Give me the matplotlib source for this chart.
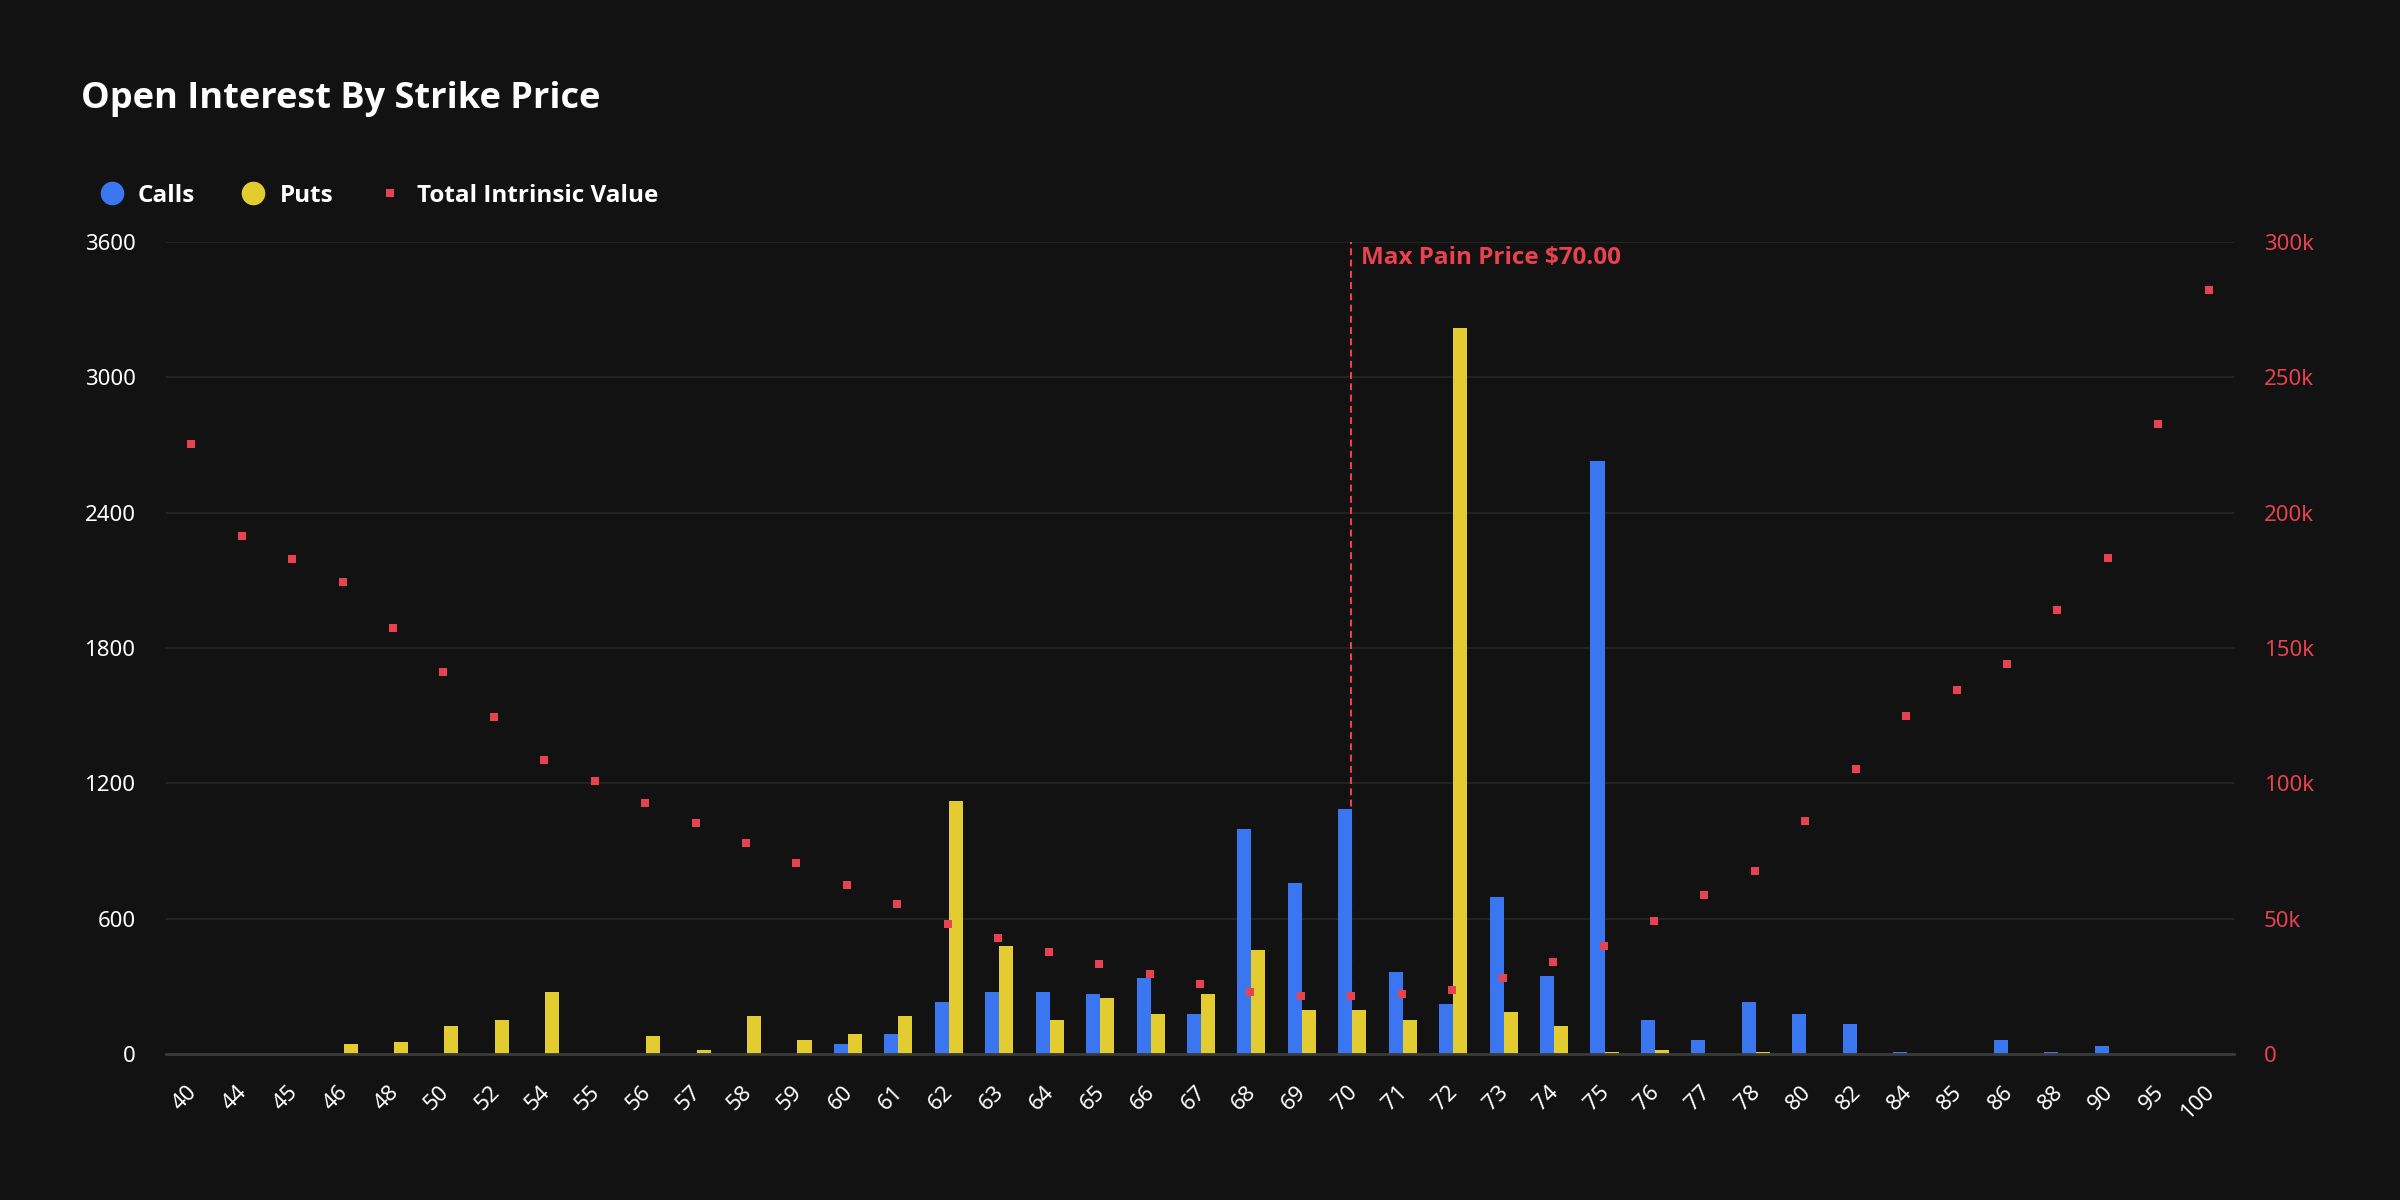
import matplotlib
matplotlib.use("Agg")
import matplotlib.pyplot as plt
from matplotlib.lines import Line2D
from matplotlib.ticker import FuncFormatter, FixedLocator
from matplotlib.transforms import ScaledTranslation
from matplotlib import font_manager
import numpy as np


def pick_bold():
    for fam in ["Noto Sans", "Open Sans", "Lato", "Roboto", "Liberation Sans"]:
        for f in font_manager.fontManager.ttflist:
            w = f.weight if isinstance(f.weight, int) else (700 if f.weight == 'bold' else 400)
            if f.name == fam and w >= 600 and f.style == 'normal':
                return fam
    return "DejaVu Sans"


plt.rcParams['font.family'] = ['Noto Sans', 'DejaVu Sans']
BOLD_FAMILY = [pick_bold(), 'DejaVu Sans']

strikes = ["40", "44", "45", "46", "48", "50", "52", "54", "55", "56", "57", "58", "59", "60",
           "61", "62", "63", "64", "65", "66", "67", "68", "69", "70", "71", "72", "73", "74",
           "75", "76", "77", "78", "80", "82", "84", "85", "86", "88", "90", "95", "100"]
calls = [0, 0, 0, 0, 0, 0, 0, 0, 0, 0, 0, 0, 0, 45,
         89, 231, 276, 276, 267, 338, 178, 997, 757, 1086, 365, 223, 694, 347,
         2630, 151, 62, 231, 178, 134, 9, 0, 62, 9, 36, 0, 0]
puts = [0, 0, 0, 45, 53, 125, 151, 276, 0, 80, 18, 169, 62, 89,
        169, 1121, 481, 151, 249, 178, 267, 463, 196, 196, 151, 3220, 187, 125,
        9, 18, 0, 9, 0, 0, 0, 0, 0, 0, 0, 0, 0]
intrinsic_k = [225.3, 191.4, 183.0, 174.4, 157.4, 141.0, 124.5, 108.5, 100.9, 92.7, 85.3, 77.9, 70.5, 62.3,
               55.6, 48.2, 43.0, 37.8, 33.4, 29.7, 26.0, 23.0, 21.5, 21.5, 22.2, 23.7, 28.2, 34.1,
               40.0, 49.0, 58.6, 67.5, 86.0, 105.3, 125.0, 134.5, 144.2, 164.0, 183.2, 232.7, 282.3]
left_ticks = [0, 600, 1200, 1800, 2400, 3000, 3600]
right_ticks = [0, 50, 100, 150, 200, 250, 300]
max_pain = "70"
max_pain_label = "Max Pain Price $70.00"
title = "Open Interest By Strike Price"
legend_labels = ["Calls", "Puts", "Total Intrinsic Value"]

BG = "#121212"
BLUE = "#3a76f0"
YELLOW = "#e3cc2f"
RED = "#e8414f"
GRID = "#262626"
W, H = 2400, 1200

fig = plt.figure(figsize=(24, 12), dpi=100, facecolor=BG)
L, R, B, T = 166, 2234, 1054, 242
ax = fig.add_axes([L / W, 1 - B / H, (R - L) / W, (B - T) / H])
ax.set_facecolor(BG)

x = np.arange(len(strikes))
bw = 0.278
shift = 0.02
ax.bar(x - bw / 2 + shift, calls, width=bw, color=BLUE, zorder=3)
ax.bar(x + bw / 2 + shift, puts, width=bw, color=YELLOW, zorder=3)

mp = strikes.index(max_pain)
ax.axvline(mp, color=RED, lw=1.5, dashes=(3.3, 2.1), zorder=2)
ax.text(mp + 0.2, 3600 - 18, max_pain_label, color=RED, fontsize=17.5, family=BOLD_FAMILY,
        fontweight='bold', va='top', ha='left', parse_math=False, zorder=4)

ax.set_xlim(-0.5, len(strikes) - 0.5)
ax.set_ylim(0, 3600)
ax.yaxis.set_major_locator(FixedLocator(left_ticks))
ax.set_yticklabels([str(v) for v in left_ticks])
ax.set_xticks(x)
ax.set_xticklabels(strikes, rotation=45, ha='right', rotation_mode='anchor')
ax.tick_params(axis='x', length=0, pad=14, labelsize=16, colors='white')
ax.tick_params(axis='y', length=0, pad=22, labelsize=16, colors='white')
off = ScaledTranslation(-0.05, -0.08, fig.dpi_scale_trans)
for lbl in ax.get_xticklabels():
    lbl.set_transform(lbl.get_transform() + off)
ax.set_axisbelow(True)
ax.grid(axis='y', color=GRID, lw=1.2)
for s in ['top', 'right', 'left']:
    ax.spines[s].set_visible(False)
ax.spines['bottom'].set_color('#3a3a3a')
ax.spines['bottom'].set_linewidth(2)
ax.spines['bottom'].set_zorder(4)

ax2 = ax.twinx()
ax2.plot(x, intrinsic_k, linestyle='none', marker='s', markersize=5.8,
         markeredgewidth=0, color=RED, zorder=5)
ax2.set_ylim(0, 300)
ax2.yaxis.set_major_locator(FixedLocator(right_ticks))
ax2.yaxis.set_major_formatter(FuncFormatter(lambda v, p: "0" if v == 0 else f"{int(v)}k"))
ax2.tick_params(axis='y', length=0, pad=21.5, labelsize=16, colors=RED)
for s in ax2.spines.values():
    s.set_visible(False)

# Title
fig.text(81 / W, 1 - 108 / H, title, color='white', fontsize=26, fontweight='bold',
         family=BOLD_FAMILY, ha='left', va='baseline')

# Legend
ly = 1 - 193 / H
items = [(112, 138, 'o', 17, BLUE, legend_labels[0]),
         (253, 280, 'o', 17, YELLOW, legend_labels[1]),
         (390, 417, 's', 5.5, RED, legend_labels[2])]
for mx, tx, mk, ms, col, lab in items:
    fig.add_artist(Line2D([mx / W], [ly], marker=mk, markersize=ms, color=col,
                          markeredgewidth=0, linestyle='none', transform=fig.transFigure))
    fig.text(tx / W, 1 - 202 / H, lab, color='white', fontsize=17.5, fontweight='bold',
             family=BOLD_FAMILY, ha='left', va='baseline')

fig.savefig("out.png", dpi=100, facecolor=BG)
